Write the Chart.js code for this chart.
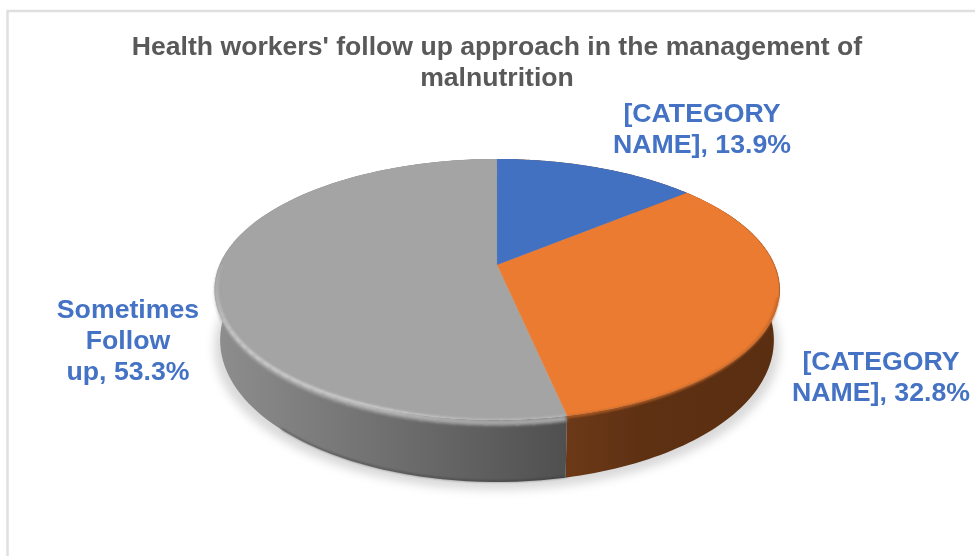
<!DOCTYPE html>
<html>
<head>
<meta charset="utf-8">
<style>
  html, body { margin: 0; padding: 0; background: #fff; }
  canvas { display: block; }
</style>
<script src="https://cdn.jsdelivr.net/npm/chart.js@4/dist/chart.umd.min.js"></script>
</head>
<body>
<canvas id="chart-follow-up" width="975" height="556"></canvas>
<script>
var titleLines = ["Health workers' follow up approach in the management of", "malnutrition"];
var categories = ["[CATEGORY NAME]", "[CATEGORY NAME]", "Sometimes Follow up"];
var categoryLines = [["[CATEGORY", "NAME]"], ["[CATEGORY", "NAME]"], ["Sometimes", "Follow", "up"]];
var percents = [13.9, 32.8, 53.3];

var faceColors = ["#4371c2", "#eb7b30", "#a4a4a4"];
var labelSpots = [{ x: 702, y: 115 }, { x: 881, y: 363 }, { x: 128, y: 311 }];
var labelLeading = 31;

// perspective of the tilted disc, fitted to the reference
var view = { x: 497, y: 265, a: 125.9, b: 277.5, c: 0.1877 };

function rowToV(yy) {
  return yy / (view.a + view.c * yy);
}

function rimPoint(angle) {
  var u = Math.cos(angle), v = Math.sin(angle), d = 1 - view.c * v;
  return { x: view.x + view.b * u / d, y: view.y + view.a * v / d };
}

function lowerPoint(angle) {
  var p = rimPoint(angle);
  return { x: view.x + (p.x - view.x) * 0.98, y: p.y + 48 + 14 * Math.sin(angle) };
}

function trace(ctx, from, to, pointAt, first) {
  var n = 90;
  for (var i = 0; i <= n; i++) {
    var p = pointAt(from + (to - from) * i / n);
    if (i === 0 && first) ctx.moveTo(p.x, p.y);
    else ctx.lineTo(p.x, p.y);
  }
}

function wallFill(ctx, index) {
  var g = ctx.createLinearGradient(214, 0, 779, 0);
  if (index === 2) {
    g.addColorStop(0, "#8e8e8e");
    g.addColorStop(0.25, "#757575");
    g.addColorStop(0.5, "#5c5c5c");
    g.addColorStop(0.63, "#4f4f4f");
    g.addColorStop(1, "#4f4f4f");
  } else {
    g.addColorStop(0, "#6e3a16");
    g.addColorStop(0.63, "#6b3917");
    g.addColorStop(0.75, "#5f3113");
    g.addColorStop(1, "#5a2e11");
  }
  return g;
}

var disc3d = {
  id: "disc3d",
  beforeDatasetsDraw: function (chart) {
    var ctx = chart.ctx;
    var arcs = chart.getDatasetMeta(0).data;
    var cx = arcs[0].x, cy = arcs[0].y, r = arcs[0].outerRadius;
    var w = chart.width, h = chart.height;

    // soft shadow under the disc
    ctx.save();
    ctx.filter = "blur(5px)";
    ctx.fillStyle = "rgba(0,0,0,0.15)";
    ctx.beginPath();
    trace(ctx, 0, Math.PI * 2, function (a) {
      var p = lowerPoint(a);
      return { x: p.x + Math.cos(a) * 6, y: p.y + 8 };
    }, true);
    ctx.closePath();
    ctx.fill();
    ctx.restore();

    // side walls
    arcs.forEach(function (arc, i) {
      ctx.beginPath();
      trace(ctx, arc.startAngle, arc.endAngle, rimPoint, true);
      trace(ctx, arc.endAngle, arc.startAngle, lowerPoint, false);
      ctx.closePath();
      ctx.fillStyle = wallFill(ctx, i);
      ctx.fill();
    });

    // dark lip along the lower edge of the grey wall
    ctx.save();
    ctx.filter = "blur(0.8px)";
    ctx.strokeStyle = "rgba(40,40,40,0.5)";
    ctx.lineWidth = 1.5;
    ctx.beginPath();
    trace(ctx, arcs[2].startAngle, Math.PI * 0.74, function (a) {
      var p = lowerPoint(a);
      return { x: p.x, y: p.y - 0.7 };
    }, true);
    ctx.stroke();
    ctx.restore();

    // thin dark edge peeking out behind the upper right of the rim
    ctx.save();
    ctx.filter = "blur(0.7px)";
    ctx.strokeStyle = "rgba(90,46,17,0.7)";
    ctx.lineWidth = 2;
    ctx.beginPath();
    trace(ctx, -0.45, 0.25, function (a) {
      var p = rimPoint(a);
      return { x: p.x - 0.5, y: p.y + 1 };
    }, true);
    ctx.stroke();
    ctx.restore();

    // top face: draw the arcs flat, then resample row by row through the perspective
    var off = document.createElement("canvas");
    off.width = w * 2;
    off.height = h * 2;
    var oc = off.getContext("2d");
    oc.scale(2, 2);
    arcs.forEach(function (arc) { arc.draw(oc); });

    ctx.save();
    ctx.imageSmoothingEnabled = true;
    ctx.imageSmoothingQuality = "high";
    for (var y = 156; y < 424; y++) {
      var v0 = rowToV(y - view.y), v1 = rowToV(y + 1 - view.y), vm = (v0 + v1) / 2;
      if (vm < -1.02 || vm > 1.02) continue;
      var k = view.b / ((1 - view.c * vm) * r);
      ctx.drawImage(off, 0, 2 * (cy + v0 * r), w * 2, 2 * r * (v1 - v0),
        view.x - k * cx, y, k * w, 1);
    }
    ctx.restore();

    // bevel on the grey rim: face colour rolling over to a highlight, then the wall
    ctx.save();
    ctx.filter = "blur(1.6px)";
    var grey = arcs[2], steps = 70;
    function rimBelow(drop) {
      return function (a) {
        var p = rimPoint(a);
        return { x: view.x + (p.x - view.x) * 0.992, y: p.y + drop * Math.max(0, Math.sin(a)) };
      };
    }
    for (var s = 0; s < steps; s++) {
      var a0 = grey.startAngle + (grey.endAngle - grey.startAngle) * s / steps;
      var a1 = grey.startAngle + (grey.endAngle - grey.startAngle) * (s + 1) / steps;
      var vv = Math.sin(a0);
      if (vv < 0.02) continue;
      var fade = Math.min(1, Math.max(0.12, (vv + 0.02) / 0.55));
      // the highlight dims toward the seam with the orange slice
      var nearSeam = Math.min(1, Math.max(0.45, (a0 - grey.startAngle) / 0.55));
      ctx.strokeStyle = "rgba(164,164,164," + fade + ")";
      ctx.lineWidth = 5;
      ctx.beginPath();
      trace(ctx, a0, a1 + 0.005, rimBelow(3), true);
      ctx.stroke();
      ctx.strokeStyle = "rgba(255,255,255," + 0.62 * fade * nearSeam + ")";
      ctx.lineWidth = 2.4;
      ctx.beginPath();
      trace(ctx, a0, a1 + 0.005, rimBelow(0.5), true);
      ctx.stroke();
    }
    ctx.restore();

    // soft edge where the orange face meets its wall
    ctx.save();
    ctx.filter = "blur(1.3px)";
    ctx.strokeStyle = "rgba(190,100,40,0.9)";
    ctx.lineWidth = 2.4;
    ctx.beginPath();
    trace(ctx, 0.25, arcs[1].endAngle, function (a) {
      var p = rimPoint(a);
      return { x: view.x + (p.x - view.x) * 0.996, y: p.y + Math.max(0, Math.sin(a)) };
    }, true);
    ctx.stroke();
    ctx.restore();

    return false;
  },
  afterDraw: function (chart) {
    var ctx = chart.ctx;
    // frame of the pasted chart
    ctx.save();
    ctx.strokeStyle = "#dfdfdf";
    ctx.lineWidth = 2.5;
    ctx.beginPath();
    ctx.moveTo(7.5, 556);
    ctx.lineTo(7.5, 11);
    ctx.lineTo(975, 11);
    ctx.stroke();

    // data labels
    ctx.fillStyle = "#4472c4";
    ctx.font = "bold 26.7px 'Liberation Sans'";
    ctx.textAlign = "center";
    ctx.textBaseline = "middle";
    categoryLines.forEach(function (lines, i) {
      lines.forEach(function (line, j) {
        var text = j === lines.length - 1 ? line + ", " + percents[i] + "%" : line;
        ctx.fillText(text, labelSpots[i].x, labelSpots[i].y + j * labelLeading);
      });
    });
    ctx.restore();
  },
};

var ctx = document.getElementById("chart-follow-up").getContext("2d");

new Chart(ctx, {
  type: "pie",
  data: {
    labels: categories,
    datasets: [
      {
        data: percents,
        backgroundColor: faceColors,
        borderWidth: 0,
      },
    ],
  },
  options: {
    responsive: false,
    animation: false,
    layout: { padding: { left: 19, top: 32 } },
    plugins: {
      legend: { display: false },
      tooltip: { enabled: false },
      title: {
        display: true,
        text: titleLines,
        color: "#595959",
        padding: 0,
        font: { family: "Liberation Sans", size: 26.6, weight: "bold", lineHeight: 1.17 },
      },
    },
  },
  plugins: [disc3d],
});
</script>
</body>
</html>
